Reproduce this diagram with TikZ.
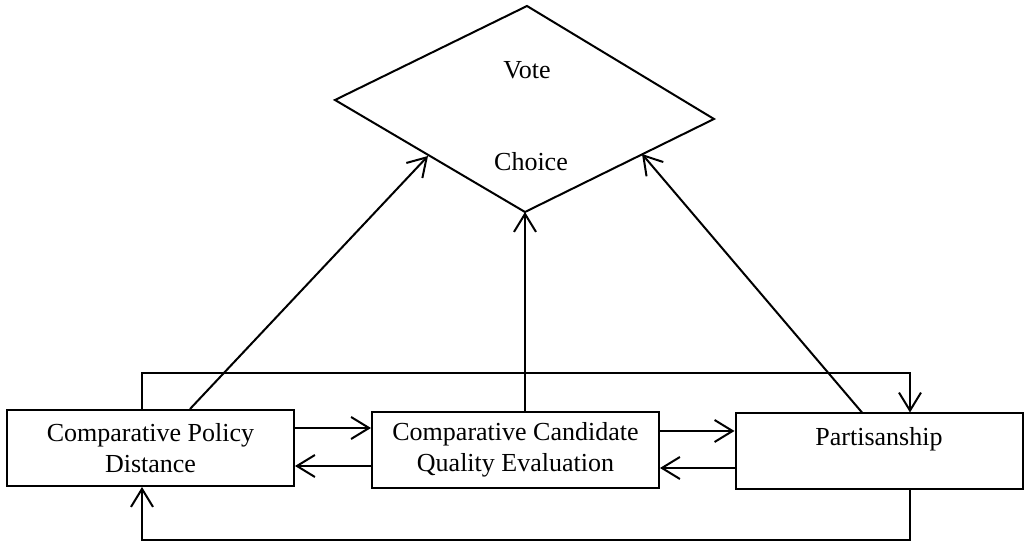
\documentclass[tikz,border=0pt]{standalone}
\usepackage{fontspec}
\setmainfont{Liberation Serif}
\usetikzlibrary{arrows.meta,positioning}

\begin{document}
\begin{tikzpicture}[
    x=0.5pt, y=-0.5pt, line width=1pt,
    every node/.style={font=\fontsize{13}{15.5}\selectfont},
    box/.style={draw, minimum width=143.5pt, minimum height=38pt, inner sep=0pt, align=center},
    arr/.style={-{Straight Barb[length=9pt,width=11pt]}}
]
\useasboundingbox (0,0) rectangle (1025,544);
% vote choice diamond
\coordinate (vt) at (527,6);
\coordinate (vr) at (714,119);
\coordinate (vb) at (525,212);
\coordinate (vl) at (335,100);
\draw (vt) -- (vr) -- (vb) -- (vl) -- cycle;
\node (vote) at (527,70) {Vote};
\node (choice) at (531,162) {Choice};
\coordinate (hitL) at (428,156);
\coordinate (hitR) at (642,154);

% the three boxes
\node[box] (cpd) at (150.5,448) {Comparative Policy\\Distance};
\node[box] (ccqe) at (515.5,450) {Comparative Candidate\\Quality Evaluation};
\node[box] (party) at (879,451.5) {Partisanship\\\phantom{X}};

% arrows up to the vote
\draw[arr] ([xshift=19.75pt]cpd.north) -- (hitL);
\draw[arr] (ccqe.north -| vb) -- (vb);
\draw[arr] ([xshift=-8.5pt]party.north) -- (hitR);

% arrows between boxes
\draw[arr] ([yshift=10pt]cpd.east) -- ([yshift=11pt]ccqe.west);
\draw[arr] ([yshift=-8pt]ccqe.west) -- ([yshift=-9pt]cpd.east);
\draw[arr] ([yshift=9.5pt]ccqe.east) -- ([yshift=10.25pt]party.west);
\draw[arr] ([yshift=-8.25pt]party.west) -- ([yshift=-9pt]ccqe.east);

% outer loops
\coordinate (loopT) at (142,373);
\coordinate (loopB) at (910,540);
\draw[arr] (cpd.north -| loopT) |- (loopB |- loopT) -- (party.north -| loopB);
\draw[arr] (party.south -| loopB) |- (loopT |- loopB) -- (cpd.south -| loopT);
\end{tikzpicture}
\end{document}
